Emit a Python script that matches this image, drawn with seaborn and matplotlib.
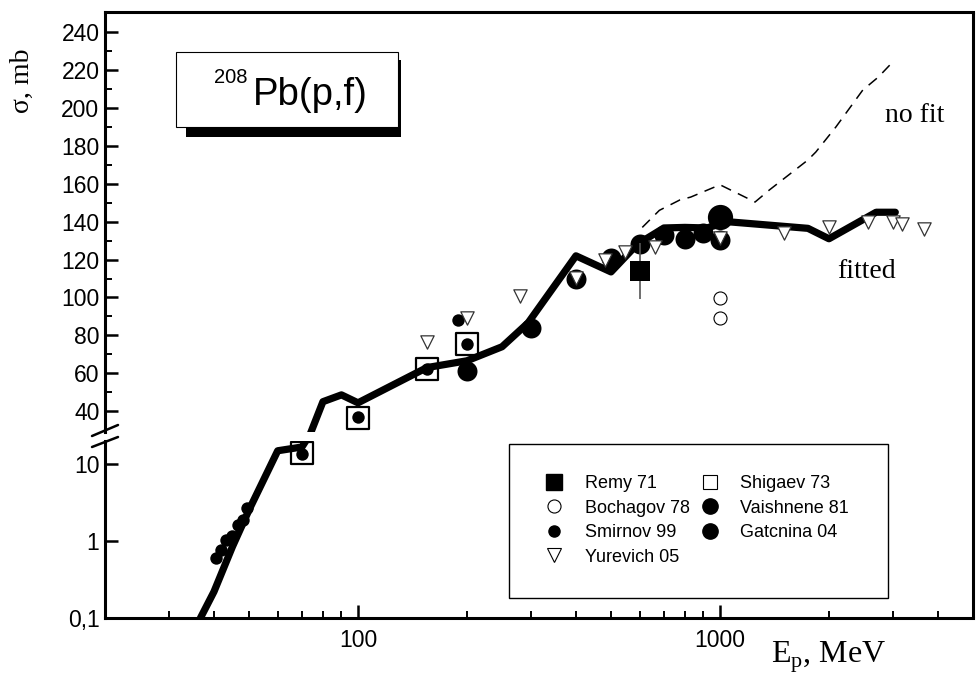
import numpy as np
import pandas as pd
import seaborn as sns
import matplotlib.pyplot as plt
from matplotlib.lines import Line2D
from matplotlib.patches import Rectangle
from matplotlib.ticker import NullFormatter

# --- data (E in MeV, sigma in mb) ---
fit_E = [36.7, 40, 45, 50, 60, 70, 80, 90, 100, 155, 200, 250, 295, 400, 500,
         590, 700, 800, 920, 1050, 1750, 2000, 2700, 3050]
fit_sig = [0.1, 0.22, 0.85, 2.55, 15, 16.8, 45, 48.6, 44.4, 63, 66.6, 74, 86.6,
           122, 113.5, 128, 136.7, 137, 136.7, 140, 136.5, 131, 145, 145]

nofit_E = [610, 680, 775, 830, 1000, 1250, 1370, 1750, 1840, 2090, 2480, 2740, 3000]
nofit_sig = [137, 146, 151.5, 153, 159.5, 150.4, 156.8, 172.6, 176.8, 190, 209.5, 216.4, 224.3]

remy_E = [600]
remy_sig = [114]
remy_err = [15]

shigaev_E = [70, 100, 155, 200]
shigaev_sig = [13.9, 36.5, 62, 75.5]

bochagov_E = [1000, 1000]
bochagov_sig = [99.5, 89]

vaishnene_E = [1000]
vaishnene_sig = [142.5]

smirnov_E = [40.4, 41.7, 43.3, 45, 46.5, 48.2, 49.4, 70, 100, 155, 189, 200]
smirnov_sig = [0.6, 0.77, 1.04, 1.15, 1.62, 1.89, 2.7, 13.6, 37, 62, 88, 75.5]

gatcnina_E = [200, 300, 400, 500, 600, 700, 800, 900, 1000]
gatcnina_sig = [61, 84, 110, 121, 128, 133, 131, 134, 130.5]

yurevich_E = [155, 200, 280, 400, 480, 547, 660, 1000, 1500, 2000, 2570, 3000, 3190, 3650]
yurevich_sig = [76.6, 89.2, 101, 110.5, 120, 124, 126.7, 131.5, 134, 137.4, 140, 140, 139, 136.3]

upper_ticks = [40, 60, 80, 100, 120, 140, 160, 180, 200, 220, 240]
lower_ticks = [0.1, 1, 10]
lower_labels = ['0,1', '1', '10']

sns.set_theme(style='ticks')
plt.rcParams['font.family'] = ['Liberation Sans', 'DejaVu Sans']
plt.rcParams['mathtext.fontset'] = 'custom'
plt.rcParams['mathtext.rm'] = 'Liberation Serif'
for k in ['text.color', 'axes.labelcolor', 'xtick.color', 'ytick.color', 'axes.edgecolor']:
    plt.rcParams[k] = 'black'

W, H = 979, 677
fig = plt.figure(figsize=(W / 100, H / 100), dpi=100)


def box(x0, y0, x1, y1):
    # pixel box (origin top-left) -> figure fraction rect
    return [x0 / W, 1 - y1 / H, (x1 - x0) / W, (y1 - y0) / H]


def fx(px):
    return px / W


def fy(py):
    return 1 - py / H


ax_top = fig.add_axes(box(105, 12, 973, 432))
ax_bot = fig.add_axes(box(105, 441, 973, 618))
ax_bot.set_yscale('log')

fit = pd.DataFrame({'E': fit_E, 'sigma': fit_sig})
nofit = pd.DataFrame({'E': nofit_E, 'sigma': nofit_sig})

for ax in (ax_top, ax_bot):
    ax.set_xscale('log')
    sns.scatterplot(x=shigaev_E, y=shigaev_sig, marker='s', s=272, color='white',
                    edgecolor='black', linewidth=1.6, ax=ax, zorder=2)
    sns.lineplot(data=fit, x='E', y='sigma', color='black', lw=5.2, estimator=None,
                 sort=False, ax=ax, zorder=3)
    sns.scatterplot(x=gatcnina_E, y=gatcnina_sig, marker='o', s=207, color='black',
                    edgecolor='black', linewidth=0, ax=ax, zorder=4)
    sns.scatterplot(x=vaishnene_E, y=vaishnene_sig, marker='o', s=330, color='black',
                    edgecolor='black', linewidth=0, ax=ax, zorder=4)
    sns.scatterplot(x=smirnov_E, y=smirnov_sig, marker='o', s=80, color='black',
                    edgecolor='black', linewidth=0, ax=ax, zorder=5)
    sns.scatterplot(x=bochagov_E, y=bochagov_sig, marker='o', s=88, color='white',
                    edgecolor='black', linewidth=0.8, ax=ax, zorder=5)
    sns.scatterplot(x=yurevich_E, y=yurevich_sig, marker='v', s=92, color='white',
                    edgecolor='#333333', linewidth=0.9, ax=ax, zorder=6)

sns.lineplot(data=nofit, x='E', y='sigma', color='black', lw=1.1, estimator=None,
             sort=False, ax=ax_top, zorder=2)
ax_top.lines[-1].set_linestyle((0, (7, 5)))
ax_top.errorbar(remy_E, remy_sig, yerr=remy_err, fmt='none', ecolor='#555555',
                elinewidth=1.2, capsize=0, zorder=6)
sns.scatterplot(x=remy_E, y=remy_sig, marker='s', s=188, color='black',
                edgecolor='black', linewidth=0, ax=ax_top, zorder=7)

# axes ranges and ticks
for ax in (ax_top, ax_bot):
    ax.set_xlim(20, 5000)
    ax.set_xlabel('')
    ax.set_ylabel('')
    ax.tick_params(which='major', direction='in', length=9.5, width=1.8,
                   labelsize=16.5, pad=4, left=True, bottom=True, top=False, right=False)
    ax.tick_params(which='minor', direction='in', length=5, width=1.4,
                   left=True, bottom=True, top=False, right=False)
    ax.spines['right'].set_visible(False)

ax_top.set_ylim(29, 250.7)
ax_top.set_yticks(upper_ticks)
ax_top.set_yticks([50, 70, 90, 110, 130, 150, 170, 190, 210, 230], minor=True)
ax_top.tick_params(axis='x', which='both', bottom=False, labelbottom=False)
ax_top.spines['bottom'].set_visible(False)
ax_top.spines['left'].set_linewidth(2.2)
ax_top.spines['top'].set_linewidth(2.2)

ax_bot.set_ylim(0.1, 20.1)
ax_bot.set_yticks(lower_ticks)
ax_bot.set_yticklabels(lower_labels)
ax_bot.set_yticks([], minor=True)
ax_bot.yaxis.set_minor_formatter(NullFormatter())
ax_bot.set_xticks([100, 1000])
ax_bot.set_xticklabels(['100', '1000'])
ax_bot.set_xticks([20, 30, 40, 50, 60, 70, 80, 90, 200, 300, 400, 500, 600, 700,
                   800, 900, 2000, 3000, 4000], minor=True)
ax_bot.xaxis.set_minor_formatter(NullFormatter())
ax_bot.tick_params(axis='x', which='major', pad=8)
ax_bot.spines['top'].set_visible(False)
ax_bot.spines['left'].set_linewidth(2.2)
ax_bot.spines['bottom'].set_linewidth(2.2)

# continuous right frame and axis break marks
fig.add_artist(Line2D([fx(973), fx(973)], [fy(12), fy(618)], color='black', lw=2.2,
                      transform=fig.transFigure))
for y0, y1 in [(436, 425), (447, 437)]:
    fig.add_artist(Line2D([fx(92), fx(118)], [fy(y0), fy(y1)], color='black', lw=1.8,
                          transform=fig.transFigure))

# title box with shadow
fig.add_artist(Rectangle((fx(186), fy(137)), (401 - 186) / W, (137 - 60) / H,
                         facecolor='black', edgecolor='none', transform=fig.transFigure))
fig.add_artist(Rectangle((fx(176), fy(127)), (398 - 176) / W, (127 - 52) / H,
                         facecolor='white', edgecolor='black', lw=0.8,
                         transform=fig.transFigure))
fig.text(fx(214), fy(83), '208', fontsize=14.5, va='baseline', ha='left')
fig.text(fx(253), fy(105), 'Pb(p,f)', fontsize=27.5, va='baseline', ha='left')

# curve labels and axis titles
serif = ['Liberation Serif', 'DejaVu Serif']
fig.text(fx(885), fy(122), 'no fit', family=serif, fontsize=20, va='baseline')
fig.text(fx(837), fy(278), 'fitted', family=serif, fontsize=20, va='baseline')
fig.text(fx(22), fy(81), 'σ, mb', family=serif, fontsize=20, rotation=90,
         ha='center', va='center')
fig.text(fx(771), fy(663), r'E$_{\rm p}$, MeV', family=serif, fontsize=23, va='baseline')

# legend
fig.add_artist(Rectangle((fx(509), fy(598)), (888 - 509) / W, (598 - 444) / H,
                         facecolor='white', edgecolor='black', lw=1.0,
                         transform=fig.transFigure))
handles = [
    Line2D([], [], ls='none', marker='s', ms=11, mfc='black', mec='black', label='Remy 71'),
    Line2D([], [], ls='none', marker='o', ms=9.4, mfc='white', mec='black', mew=0.8,
           label='Bochagov 78'),
    Line2D([], [], ls='none', marker='o', ms=8, mfc='black', mec='black', label='Smirnov 99'),
    Line2D([], [], ls='none', marker='v', ms=9.5, mfc='white', mec='black', mew=0.8,
           label='Yurevich 05'),
    Line2D([], [], ls='none', marker='s', ms=9.6, mfc='white', mec='black', mew=0.8,
           label='Shigaev 73'),
    Line2D([], [], ls='none', marker='o', ms=11, mfc='black', mec='black', label='Vaishnene 81'),
    Line2D([], [], ls='none', marker='o', ms=11, mfc='black', mec='black', label='Gatcnina 04'),
]
leg = fig.legend(handles=handles, loc='upper left', bbox_to_anchor=(fx(545), fy(475)),
                 ncol=2, fontsize=13, frameon=False, borderpad=0, borderaxespad=0,
                 handlelength=1.0, handletextpad=1.2, columnspacing=0.6,
                 labelspacing=0.42)
leg.set_zorder(5)

fig.savefig('out.png', dpi=100)
